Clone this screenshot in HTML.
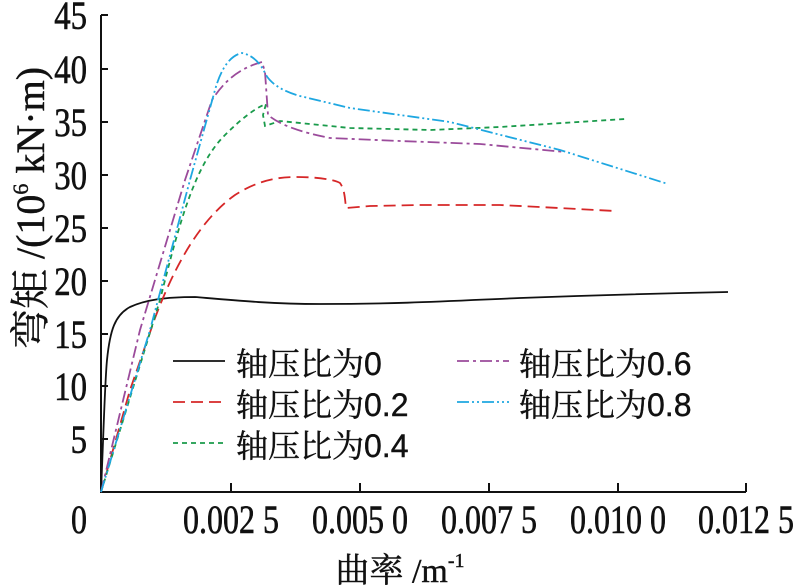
<!DOCTYPE html><html><head><meta charset="utf-8"><style>body{margin:0;background:#fff}svg{display:block}</style></head><body>
<svg width="800" height="588" viewBox="0 0 800 588" xmlns="http://www.w3.org/2000/svg">
<g stroke="#111" stroke-width="2" fill="none">
<path d="M101,15 V492 H746"/>
<path d="M101,15h7M101,69h7M101,122h7M101,175h7M101,228h7M101,281h7M101,334h7M101,386h7M101,439h7"/>
<path d="M231,492v-9M360,492v-9M489,492v-9M618,492v-9M746,492v-9"/>
</g>
<g font-family="Liberation Serif, serif" font-size="40" fill="#111" stroke="#111" stroke-width="0.6" text-anchor="end">
<text transform="translate(87,29) scale(0.82,1)">45</text><text transform="translate(87,83) scale(0.82,1)">40</text><text transform="translate(87,136) scale(0.82,1)">35</text><text transform="translate(87,189) scale(0.82,1)">30</text><text transform="translate(87,242) scale(0.82,1)">25</text><text transform="translate(87,295) scale(0.82,1)">20</text><text transform="translate(87,348) scale(0.82,1)">15</text><text transform="translate(87,400) scale(0.82,1)">10</text><text transform="translate(87,453) scale(0.82,1)">5</text>
</g>
<g font-family="Liberation Serif, serif" font-size="40" fill="#111" stroke="#111" stroke-width="0.6" text-anchor="middle">
<text transform="translate(79,533) scale(0.8,1)">0</text><text transform="translate(231,533) scale(0.8,1)">0.002 5</text><text transform="translate(360,533) scale(0.8,1)">0.005 0</text><text transform="translate(489,533) scale(0.8,1)">0.007 5</text><text transform="translate(618,533) scale(0.8,1)">0.010 0</text><text transform="translate(746,533) scale(0.8,1)">0.012 5</text>
</g>
<text x="400" y="582" font-family="Liberation Serif, 'Noto Serif CJK SC', serif" font-size="34" text-anchor="middle" fill="#111" stroke="#111" stroke-width="0.4">曲率 /m<tspan font-size="20" dy="-15">-1</tspan></text>
<text transform="translate(44,208) rotate(-90)" font-family="Liberation Serif, 'Noto Serif CJK SC', serif" font-size="40" text-anchor="middle" fill="#111" stroke="#111" stroke-width="0.4">弯矩 /(10<tspan font-size="22" dy="-16">6</tspan><tspan dy="16"> kN·m)</tspan></text>
<g fill="none" stroke-width="1.8">
<path stroke="#111" d="M101,492 C104,420 105,380 107,360 C110,330 115,315 130,307 C145,300 165,297 195,297 C230,300 270,304 320,304 C400,304 450,301 520,298 C600,295 680,293 728,292"/>
<path stroke="#d62728" stroke-dasharray="12,6" d="M101,492 L130,390 L155,318 C175,265 200,220 235,195 C255,182 275,177 295,177 C320,177 335,180 340,183 C345,190 345,200 346,208 L370,206 L420,205 L500,205 L540,207 L615,211"/>
<path stroke="#1a9b4b" stroke-dasharray="5,4" d="M101,492 L160,300 C180,220 195,165 225,135 C240,120 255,108 266,104 L263,115 L265,126 L280,121 L350,128 L430,130 L500,127 L625,119"/>
<path stroke="#9b4b9b" stroke-dasharray="12,4,3,4" d="M101,492 L140,330 L185,180 L212,100 C225,80 240,68 262,62 L265,72 L268,115 C280,125 300,132 330,138 L400,141 L480,144 L565,152"/>
<path stroke="#1ea7e1" stroke-dasharray="12,3,2,3,2,3" d="M101,492 L150,330 L190,180 L215,90 C222,65 232,55 242,53 C252,55 260,62 266,75 C272,85 285,92 300,96 L350,108 L450,122 L560,150 L668,184"/>
</g>
<g stroke-width="1.8">
<path stroke="#111" d="M173,361h52"/>
<path stroke="#d62728" stroke-dasharray="12,6" d="M173,402h52"/>
<path stroke="#1a9b4b" stroke-dasharray="5,4" d="M173,443h52"/>
<path stroke="#9b4b9b" stroke-dasharray="12,4,3,4" d="M457,361h52"/>
<path stroke="#1ea7e1" stroke-dasharray="12,3,2,3,2,3" d="M457,402h52"/>
</g>
<g font-family="Liberation Sans, 'Noto Serif CJK SC', serif" font-size="32" fill="#111" stroke="#111" stroke-width="0.4">
<text x="236" y="375">轴压比为0</text><text x="236" y="416">轴压比为0.2</text><text x="236" y="457">轴压比为0.4</text>
<text x="519" y="375">轴压比为0.6</text><text x="519" y="416">轴压比为0.8</text>
</g>
</svg></body></html>
